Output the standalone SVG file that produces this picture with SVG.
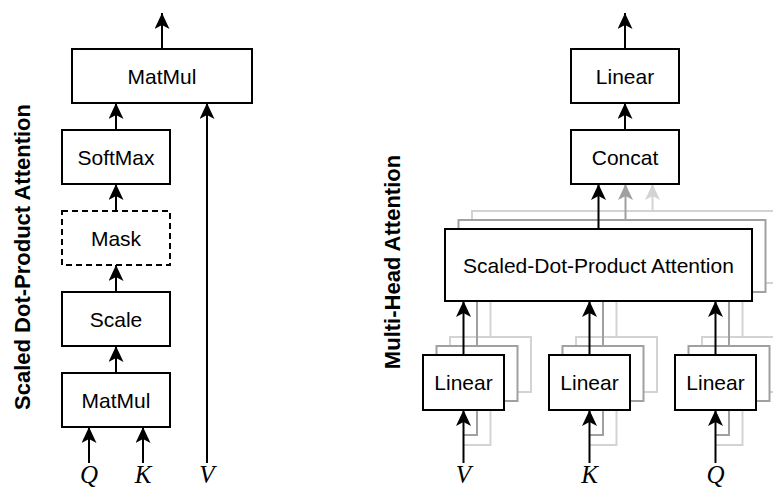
<svg xmlns="http://www.w3.org/2000/svg" width="773" height="489" viewBox="0 0 773 489">
  <style>
    .box { fill: #ffffff; stroke: #000000; stroke-width: 2; }
    .dash { stroke-dasharray: 6 4; }
    .sh1 { fill: #ffffff; stroke: #a0a0a0; stroke-width: 2; }
    .sh2 { fill: #ffffff; stroke: #d3d3d3; stroke-width: 2; }
    .lbl { font-family: "Liberation Sans", Arial, sans-serif; font-size: 21px; text-anchor: middle; fill: #000000; }
    .title { font-family: "Liberation Sans", Arial, sans-serif; font-size: 22px; font-weight: bold; text-anchor: middle; fill: #000000; }
    .math { font-family: "Liberation Serif", "Times New Roman", serif; font-style: italic; font-size: 25px; text-anchor: middle; fill: #000000; }
    .edge { fill: none; stroke: #000000; stroke-width: 2; }
    .edge1 { fill: none; stroke: #a0a0a0; stroke-width: 2; }
    .edge2 { fill: none; stroke: #d3d3d3; stroke-width: 2; }
  </style>
  <defs>
    <marker id="arrow" viewBox="0 0 16 15" refX="16" refY="7.5" markerWidth="16" markerHeight="15" markerUnits="userSpaceOnUse" orient="auto">
      <path d="M0,0 L16,7.5 L0,15 L4,7.5 Z" fill="#000000"/>
    </marker>
    <marker id="arrow1" viewBox="0 0 16 15" refX="16" refY="7.5" markerWidth="16" markerHeight="15" markerUnits="userSpaceOnUse" orient="auto">
      <path d="M0,0 L16,7.5 L0,15 L4,7.5 Z" fill="#a0a0a0"/>
    </marker>
    <marker id="arrow2" viewBox="0 0 16 15" refX="16" refY="7.5" markerWidth="16" markerHeight="15" markerUnits="userSpaceOnUse" orient="auto">
      <path d="M0,0 L16,7.5 L0,15 L4,7.5 Z" fill="#d3d3d3"/>
    </marker>
  </defs>

  <rect width="773" height="489" fill="#ffffff"/>

  <!-- ===== Scaled Dot-Product Attention ===== -->
  <text class="title" transform="translate(30,257) rotate(-90)">Scaled Dot-Product Attention</text>

  <g id="sdpa-edges">
    <path class="edge" marker-end="url(#arrow)" d="M162,49 V13"/>
    <path class="edge" marker-end="url(#arrow)" d="M116,130 V103"/>
    <path class="edge" marker-end="url(#arrow)" d="M116,211 V184"/>
    <path class="edge" marker-end="url(#arrow)" d="M116,292 V265"/>
    <path class="edge" marker-end="url(#arrow)" d="M116,373 V346"/>
    <path class="edge" marker-end="url(#arrow)" d="M89,463 V427"/>
    <path class="edge" marker-end="url(#arrow)" d="M143,463 V427"/>
    <path class="edge" marker-end="url(#arrow)" d="M207,463 V103"/>
  </g>

  <g id="matmul-out">
    <rect class="box" x="72" y="49" width="180" height="54"/>
    <text class="lbl" x="162" y="83.5">MatMul</text>
  </g>
  <g id="softmax">
    <rect class="box" x="62" y="130" width="108" height="54"/>
    <text class="lbl" x="116" y="164.5">SoftMax</text>
  </g>
  <g id="mask">
    <rect class="box dash" x="62" y="211" width="108" height="54"/>
    <text class="lbl" x="116" y="245.5">Mask</text>
  </g>
  <g id="scale">
    <rect class="box" x="62" y="292" width="108" height="54"/>
    <text class="lbl" x="116" y="326.5">Scale</text>
  </g>
  <g id="matmul-in">
    <rect class="box" x="62" y="373" width="108" height="54"/>
    <text class="lbl" x="116" y="407.5">MatMul</text>
  </g>
  <g id="sdpa-inputs">
    <text class="math" x="89" y="483">Q</text>
    <text class="math" x="143" y="483">K</text>
    <text class="math" x="207" y="483">V</text>
  </g>

  <!-- ===== Multi-Head Attention ===== -->
  <text class="title" transform="translate(400,262) rotate(-90)">Multi-Head Attention</text>

  <!-- stacked heads behind the front layer -->
  <g id="heads-back">
    <rect class="sh2" x="472" y="211" width="307" height="72"/>
    <rect class="sh2" x="450" y="337" width="81" height="55"/>
    <rect class="sh2" x="576" y="337" width="81" height="55"/>
    <rect class="sh2" x="702" y="337" width="81" height="55"/>
    <rect class="sh1" x="458.5" y="220" width="307" height="72"/>
    <rect class="sh1" x="436.5" y="346" width="81" height="55"/>
    <rect class="sh1" x="562.5" y="346" width="81" height="55"/>
    <rect class="sh1" x="688.5" y="346" width="81" height="55"/>
  </g>

  <g id="mha-edges-back">
    <path class="edge2" marker-end="url(#arrow2)" d="M652.5,211 V184"/>
    <path class="edge1" marker-end="url(#arrow1)" d="M625.5,220 V184"/>
    <path class="edge2" d="M490.5,337 V283 M616.5,337 V283 M742.5,337 V283"/>
    <path class="edge1" d="M477,346 V292 M603,346 V292 M729,346 V292"/>
    <path class="edge2" d="M463.5,445 H490.5 V392 M589.5,445 H616.5 V392 M715.5,445 H742.5 V392"/>
    <path class="edge1" d="M463.5,435 H477 V401 M589.5,435 H603 V401 M715.5,435 H729 V401"/>
  </g>

  <g id="mha-edges">
    <path class="edge" marker-end="url(#arrow)" d="M625,49 V13"/>
    <path class="edge" marker-end="url(#arrow)" d="M625,130 V103"/>
    <path class="edge" marker-end="url(#arrow)" d="M598.5,229 V184"/>
    <path class="edge" marker-end="url(#arrow)" d="M463.5,355 V301"/>
    <path class="edge" marker-end="url(#arrow)" d="M589.5,355 V301"/>
    <path class="edge" marker-end="url(#arrow)" d="M715.5,355 V301"/>
    <path class="edge" marker-end="url(#arrow)" d="M463.5,463 V410"/>
    <path class="edge" marker-end="url(#arrow)" d="M589.5,463 V410"/>
    <path class="edge" marker-end="url(#arrow)" d="M715.5,463 V410"/>
  </g>

  <g id="linear-out">
    <rect class="box" x="571" y="49" width="108" height="54"/>
    <text class="lbl" x="625" y="83.5">Linear</text>
  </g>
  <g id="concat">
    <rect class="box" x="571" y="130" width="108" height="54"/>
    <text class="lbl" x="625" y="164.5">Concat</text>
  </g>
  <g id="attention">
    <rect class="box" x="445" y="229" width="307" height="72"/>
    <text class="lbl" x="598.5" y="272.5">Scaled-Dot-Product Attention</text>
  </g>
  <g id="linear-v">
    <rect class="box" x="423" y="355" width="81" height="55"/>
    <text class="lbl" x="463.5" y="390">Linear</text>
  </g>
  <g id="linear-k">
    <rect class="box" x="549" y="355" width="81" height="55"/>
    <text class="lbl" x="589.5" y="390">Linear</text>
  </g>
  <g id="linear-q">
    <rect class="box" x="675" y="355" width="81" height="55"/>
    <text class="lbl" x="715.5" y="390">Linear</text>
  </g>
  <g id="mha-inputs">
    <text class="math" x="463.5" y="483">V</text>
    <text class="math" x="589.5" y="483">K</text>
    <text class="math" x="715.5" y="483">Q</text>
  </g>
</svg>
